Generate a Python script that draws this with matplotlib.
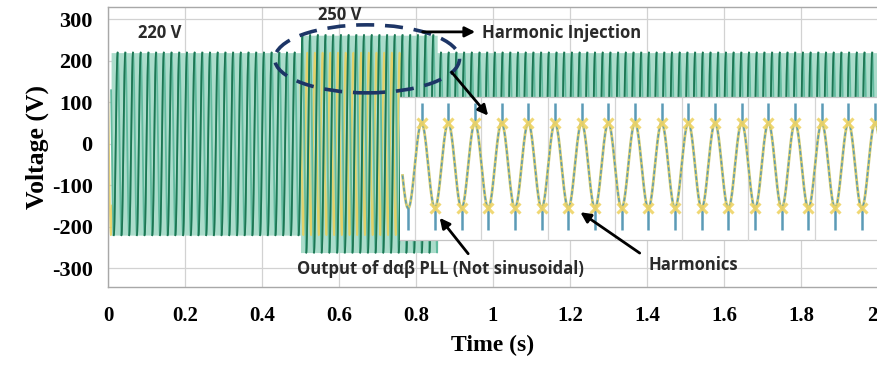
import numpy as np
import matplotlib.pyplot as plt
from matplotlib.patches import Ellipse, Rectangle

plt.rcParams['axes.unicode_minus'] = False

# Grid voltage envelope (V) for each time segment (s)
seg_edges = [0.0, 0.5, 0.855, 2.0]
grid_amp = [220, 262, 220]
grid_freq = 50.0

# Yellow reference trace, only visible in these windows
ref_windows = [(0.0, 0.010), (0.5, 0.765)]
ref_amp = 220

# PLL output drawn in the lower window
pll_start = 0.765
pll_first_trough = 0.849
pll_period = 0.0693
pll_center = -52
pll_amp = 103
spike_high = 99
spike_low = -207
marker_from = 0.81

# lower window extent and its own grid
win_left = 0.758
win_top = 113
win_bottom = -231
win_grid = [0.797, 0.970, 1.143, 1.317, 1.490, 1.663, 1.836]

x_ticks = [0, 0.2, 0.4, 0.6, 0.8, 1.0, 1.2, 1.4, 1.6, 1.8, 2.0]
x_labels = ['0', '0.2', '0.4', '0.6', '0.8', '1', '1.2', '1.4', '1.6', '1.8', '2']
y_ticks = [-300, -200, -100, 0, 100, 200, 300]

DARK = '#1d7653'
TEAL = '#62bb9f'
FILL = '#abdccb'
YELLOW = '#ecd058'
BLUE = '#5b9bb6'
NAVY = '#1d3566'
TXT = '#2a2a2a'

t = np.linspace(0, 2.0, 80001)
idx = np.clip(np.searchsorted(seg_edges, t, side='right') - 1, 0, len(grid_amp) - 1)
amp = np.array(grid_amp, dtype=float)[idx]
w = 2 * np.pi * grid_freq

fig = plt.figure(figsize=(8.78, 3.65), dpi=100)
ax = fig.add_axes([108 / 878, 78 / 365, 770 / 878, 280 / 365])
ax.set_xlim(0, 2.0)
ax.set_ylim(-345, 330)

mg = t >= 0.008
# light band behind the dense strokes
ax.fill_between(t[mg], -amp[mg], amp[mg], color=FILL, lw=0, zorder=1.2)

# yellow trace
for a, b in ref_windows:
    m = (t >= a) & (t <= b)
    ax.plot(t[m], ref_amp * np.sin(w * t[m] + 2.4), color=YELLOW, lw=1.3, alpha=0.85, zorder=1.5)

# green voltage: light falling strokes, dark rising strokes
v = amp * np.sin(w * t)
rising = np.where(np.cos(w * t) > 0, v, np.nan)
ax.plot(t[mg], v[mg], color=TEAL, lw=1.3, zorder=2)
ax.plot(t[mg], rising[mg], color=DARK, lw=1.3, zorder=3)

# lower window pasted over the traces
ax.add_patch(Rectangle((win_left, win_bottom), 2.0 - win_left + 0.05, win_top - win_bottom,
                       facecolor='white', edgecolor='none', zorder=4))
ax.plot([win_left, 2.0], [win_top, win_top], color='#c4c4c4', lw=0.9, zorder=4.1)
ax.plot([win_left, 2.0], [win_bottom, win_bottom], color='#c4c4c4', lw=0.9, zorder=4.1)
ax.vlines(win_grid, win_bottom, win_top, color='#d4d4d4', lw=0.9, zorder=4.1)

t2 = t[t >= pll_start]
v2 = pll_center - pll_amp * np.cos(2 * np.pi * (t2 - pll_first_trough) / pll_period)
ax.plot(t2, v2, color='#d3cb6e', lw=2.0, zorder=5)
ax.plot(t2, v2, color=BLUE, lw=1.1, dashes=(2.5, 1.5), zorder=6)

troughs = pll_first_trough + pll_period * np.arange(-1, 17)
troughs = troughs[troughs <= 2.0]
peaks = troughs + pll_period / 2
peaks = peaks[peaks <= 2.0]
ax.vlines(peaks, pll_center + pll_amp, spike_high, color=BLUE, lw=1.8, zorder=6)
ax.vlines(troughs, pll_center - pll_amp, spike_low, color=BLUE, lw=1.8, zorder=6)
pk = peaks[peaks >= marker_from]
tr = troughs[troughs >= marker_from]
ax.plot(pk, np.full(len(pk), pll_center + pll_amp), 'x', color='#efd466', ms=7, mew=2.2,
        alpha=0.9, zorder=7)
ax.plot(tr, np.full(len(tr), pll_center - pll_amp), 'x', color='#efd466', ms=7, mew=2.2,
        alpha=0.9, zorder=7)

# dashed ellipse around the 250 V step
ax.add_patch(Ellipse((0.673, 205), 0.48, 164, fill=False, edgecolor=NAVY,
                     lw=2.6, ls=(0, (5, 3)), zorder=8))

ann = dict(fontsize=12, fontweight='bold', color=TXT, family=['Open Sans', 'DejaVu Sans'], zorder=9)
ax.text(0.078, 267, '220 V', va='center', ha='left', **ann)
ax.text(0.545, 311, '250 V', va='center', ha='left', **ann)
ax.text(0.971, 267, 'Harmonic Injection', va='center', ha='left', **ann)
ax.text(0.491, -301, 'Output of dαβ PLL (Not sinusoidal)', va='center', ha='left', **ann)
ax.text(1.403, -292, 'Harmonics', va='center', ha='left', **ann)

arrow = dict(arrowstyle='-|>', color='black', lw=2, mutation_scale=15)
ax.annotate('', xy=(0.961, 270), xytext=(0.810, 270), arrowprops=arrow, zorder=9)
ax.annotate('', xy=(0.992, 63), xytext=(0.888, 178), arrowprops=arrow, zorder=9)
ax.annotate('', xy=(0.857, -173), xytext=(0.940, -270), arrowprops=arrow, zorder=9)
ax.annotate('', xy=(1.221, -161), xytext=(1.387, -267), arrowprops=arrow, zorder=9)

ax.set_xticks(x_ticks)
ax.set_xticklabels(x_labels)
ax.set_yticks(y_ticks)
ax.grid(True, color='#d2d2d2', lw=0.9, zorder=0.5)
ax.set_axisbelow(True)
ax.tick_params(length=0)
ax.tick_params(axis='x', pad=14)
ax.tick_params(axis='y', pad=11)
for lab in ax.get_xticklabels():
    lab.set(family='Liberation Serif', fontweight='bold', fontsize=15)
ax.get_xticklabels()[-1].set_horizontalalignment('right')
for lab in ax.get_yticklabels():
    lab.set(family='Liberation Serif', fontweight='bold', fontsize=16)
for s in ax.spines.values():
    s.set_color('#a8a8a8')
    s.set_linewidth(1.0)

ax.set_xlabel('Time (s)', family='Liberation Serif', fontweight='bold', fontsize=17, labelpad=6)
ax.set_ylabel('Voltage (V)', family='Liberation Serif', fontweight='bold', fontsize=18.5, labelpad=2)

fig.savefig('out.png', dpi=100)
